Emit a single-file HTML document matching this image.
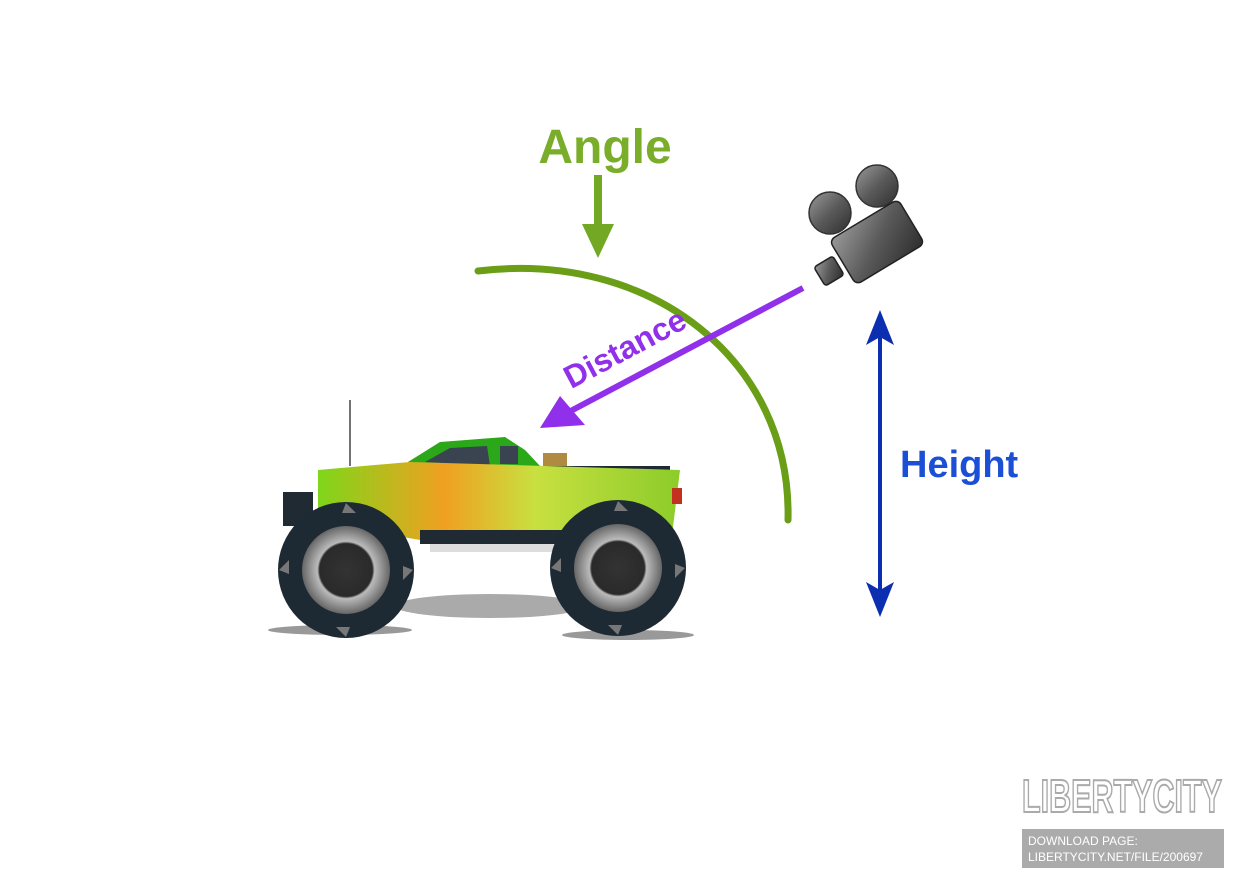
<!DOCTYPE html>
<html><head><meta charset="utf-8"><style>
html,body{margin:0;padding:0;background:#fff;}
svg{display:block;}
</style></head><body>
<svg width="1245" height="889" viewBox="0 0 1245 889" xmlns="http://www.w3.org/2000/svg">
<defs>
<linearGradient id="cam" x1="0" y1="0" x2="1" y2="1"><stop offset="0" stop-color="#9a9a9a"/><stop offset="0.5" stop-color="#5a5a5a"/><stop offset="1" stop-color="#2e2e2e"/></linearGradient>
<linearGradient id="body" x1="0" y1="0" x2="1" y2="0"><stop offset="0" stop-color="#7fd61a"/><stop offset="0.35" stop-color="#f0a020"/><stop offset="0.6" stop-color="#c8e040"/><stop offset="1" stop-color="#8ccc2a"/></linearGradient>
<radialGradient id="rim"><stop offset="0" stop-color="#333"/><stop offset="0.6" stop-color="#2a2a2a"/><stop offset="0.65" stop-color="#bbb"/><stop offset="1" stop-color="#666"/></radialGradient>
</defs>
<text x="605" y="163" font-family="Liberation Sans, sans-serif" font-size="48" font-weight="bold" fill="#7aad2a" text-anchor="middle">Angle</text>
<rect x="594" y="175" width="8" height="55" fill="#72a823"/>
<polygon points="582,224 614,224 598,258" fill="#72a823"/>
<path d="M478,271 C650,250 792,360 788,520" fill="none" stroke="#6a9e17" stroke-width="7" stroke-linecap="round"/>
<circle cx="830" cy="213" r="21" fill="url(#cam)" stroke="#333" stroke-width="1.5"/>
<circle cx="877" cy="186" r="21" fill="url(#cam)" stroke="#333" stroke-width="1.5"/>
<g transform="translate(877,242) rotate(-31)"><rect x="-40" y="-26" width="80" height="52" rx="6" fill="url(#cam)" stroke="#222" stroke-width="1.5"/></g>
<g transform="translate(829,271) rotate(-31)"><rect x="-11" y="-11" width="22" height="22" rx="3" fill="url(#cam)" stroke="#222" stroke-width="1.5"/></g>
<line x1="803" y1="288" x2="565" y2="414" stroke="#9130ea" stroke-width="6"/>
<polygon points="540,428 560,396 585,425" fill="#9130ea"/>
<text transform="translate(630,358) rotate(-28)" font-family="Liberation Sans, sans-serif" font-size="32" font-weight="bold" fill="#9130ea" text-anchor="middle">Distance</text>
<line x1="880" y1="330" x2="880" y2="598" stroke="#0b2fb0" stroke-width="4"/>
<polygon points="880,310 866,345 880,337 894,345" fill="#0b2fb0"/>
<polygon points="880,617 866,582 880,590 894,582" fill="#0b2fb0"/>
<text x="900" y="477" font-family="Liberation Sans, sans-serif" font-size="38" font-weight="bold" fill="#1b4fd6">Height</text>
<ellipse cx="340" cy="630" rx="72" ry="5" fill="#999"/>
<ellipse cx="628" cy="635" rx="66" ry="5" fill="#999"/>
<ellipse cx="490" cy="606" rx="95" ry="12" fill="#aaa"/>
<line x1="350" y1="400" x2="350" y2="466" stroke="#444" stroke-width="1.5"/>
<path d="M408,462 L440,442 L505,437 L525,450 L540,466 L408,466 Z" fill="#2aa81a"/>
<path d="M425,462 L450,448 L487,446 L490,466 Z" fill="#3a4450"/>
<rect x="500" y="446" width="18" height="18" fill="#3a4450"/>
<rect x="543" y="453" width="24" height="14" fill="#b08a40"/>
<rect x="520" y="466" width="150" height="8" fill="#1f2a33"/>
<path d="M318,470 L410,462 L680,470 L672,535 L420,540 L318,522 Z" fill="url(#body)"/>
<rect x="283" y="492" width="30" height="34" fill="#1f2a33"/>
<rect x="672" y="488" width="10" height="16" fill="#c43020"/>
<rect x="420" y="530" width="170" height="14" fill="#1f2a33"/>
<rect x="430" y="544" width="140" height="8" fill="#ddd"/>
<g>
<circle cx="346" cy="570" r="68" fill="#1e2a33"/>
<circle cx="346" cy="570" r="44" fill="url(#rim)"/>
<circle cx="618" cy="568" r="68" fill="#1e2a33"/>
<circle cx="618" cy="568" r="44" fill="url(#rim)"/>
<g fill="#777">
<path d="M346,503 l10,10 -14,0 z"/><path d="M346,637 l-10,-10 14,0 z"/><path d="M279,570 l10,-10 0,14 z"/><path d="M413,570 l-10,10 0,-14 z"/>
<path d="M618,501 l10,10 -14,0 z"/><path d="M618,635 l-10,-10 14,0 z"/><path d="M551,568 l10,-10 0,14 z"/><path d="M685,568 l-10,10 0,-14 z"/>
</g>
</g>
<text x="1122" y="812" font-family="Liberation Sans, sans-serif" font-size="46" font-weight="bold" fill="#fff" stroke="#aaa" stroke-width="2" text-anchor="middle" textLength="200" lengthAdjust="spacingAndGlyphs">LIBERTYCITY</text>
<rect x="1022" y="829" width="202" height="39" fill="#ababab"/>
<text x="1028" y="845" font-family="Liberation Sans, sans-serif" font-size="12" fill="#fff">DOWNLOAD PAGE:</text>
<text x="1028" y="861" font-family="Liberation Sans, sans-serif" font-size="12" fill="#fff">LIBERTYCITY.NET/FILE/200697</text>
</svg>
</body></html>
